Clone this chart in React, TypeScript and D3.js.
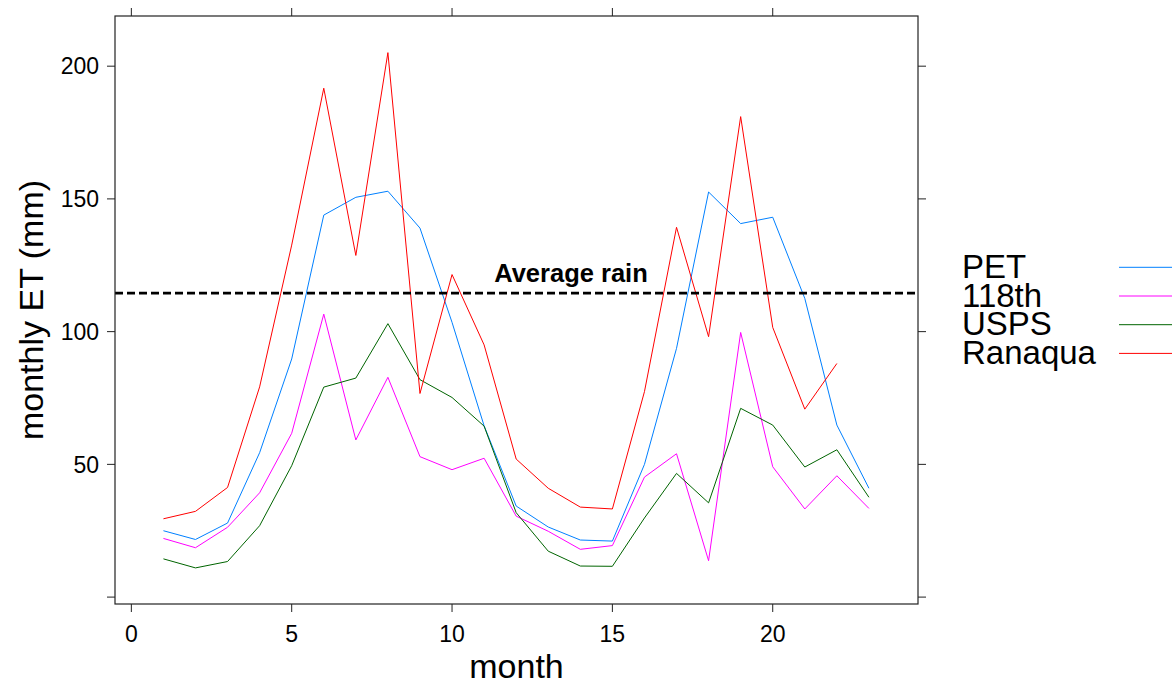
import React from "react";
import * as d3 from "d3";

const months = d3.range(1, 24);
const seriesNames = ["PET", "118th", "USPS", "Ranaqua"];
const seriesColors = ["#0080ff", "#ff00ff", "#006400", "#ff0000"];
const petValues = [25.0, 21.7, 27.9, 54.4, 89.7, 143.9, 150.6, 152.9, 139.0, 103.5, 64.5, 34.3, 26.4, 21.5, 21.1, 50.0, 93.7, 152.6, 140.7, 143.1, 112.5, 64.8, 41.0];
const s118Values = [22.1, 18.6, 26.3, 39.3, 61.7, 106.6, 59.2, 82.8, 52.9, 48.0, 52.3, 30.5, 24.8, 18.0, 19.4, 45.2, 54.0, 13.7, 99.7, 49.1, 33.2, 45.7, 33.4];
const uspsValues = [14.4, 11.0, 13.4, 26.9, 49.5, 79.1, 82.5, 103.0, 81.9, 75.2, 64.4, 31.8, 17.3, 11.7, 11.6, 29.8, 46.6, 35.5, 71.1, 64.8, 49.0, 55.5, 37.6];
const ranaquaValues = [29.5, 32.3, 41.3, 79.2, 132.6, 191.7, 128.7, 205.1, 76.7, 121.5, 95.0, 52.0, 41.0, 33.9, 33.2, 77.4, 139.3, 98.1, 181.0, 101.6, 70.8, 88.0];
const xTicks = [0, 5, 10, 15, 20];
const yTicks = [0, 50, 100, 150, 200];
const yTickLabels = ["", "50", "100", "150", "200"];
const averageRain = 114.5;

const allSeries = [petValues, s118Values, uspsValues, ranaquaValues];

export default function App() {
  const W = 1172, H = 686;
  const left = 115, right = 918, top = 16, bottom = 604;
  const x = d3.scaleLinear().domain([-0.51, 24.53]).range([left, right]);
  const y = d3.scaleLinear().domain([-2.6, 218.9]).range([bottom, top]);
  const line = d3.line<number>().x((_, i) => x(months[i])).y((d) => y(d));
  const font = "'Liberation Sans', Arial, Helvetica, sans-serif";
  const axisCol = "#222";

  return (
    <svg width={W} height={H} style={{ position: "absolute", left: 0, top: 0, background: "#fff" }} fontFamily={font}>
      <rect x={0} y={0} width={W} height={H} fill="#fff" />
      {allSeries.map((vals, si) => (
        <path key={si} d={line(vals) || ""} fill="none" stroke={seriesColors[si]} strokeWidth={1} />
      ))}
      <line x1={left} x2={right} y1={y(averageRain)} y2={y(averageRain)} stroke="#000" strokeWidth={2.6} strokeDasharray="8 4" />
      <text x={571} y={282} textAnchor="middle" fontWeight="bold" fontSize={25.5}>Average rain</text>
      <rect x={left} y={top} width={right - left} height={bottom - top} fill="none" stroke={axisCol} strokeWidth={1.2} />
      {xTicks.map((t) => (
        <g key={"x" + t}>
          <line x1={x(t)} x2={x(t)} y1={bottom} y2={bottom + 8} stroke={axisCol} />
          <line x1={x(t)} x2={x(t)} y1={top} y2={top - 8} stroke={axisCol} />
          <text x={x(t)} y={642} textAnchor="middle" fontSize={23}>{t}</text>
        </g>
      ))}
      {yTicks.map((t, i) => (
        <g key={"y" + t}>
          <line x1={left} x2={left - 8} y1={y(t)} y2={y(t)} stroke={axisCol} />
          <line x1={right} x2={right + 8} y1={y(t)} y2={y(t)} stroke={axisCol} />
          <text x={99} y={y(t)} dy="0.36em" textAnchor="end" fontSize={23}>{yTickLabels[i]}</text>
        </g>
      ))}
      <text x={(left + right) / 2} y={678} textAnchor="middle" fontSize={34}>month</text>
      <text transform={`translate(43, ${(top + bottom) / 2}) rotate(-90)`} textAnchor="middle" fontSize={34}>monthly ET (mm)</text>
      {seriesNames.map((n, i) => (
        <g key={n}>
          <text x={962} y={278 + i * 28.7} fontSize={33}>{n}</text>
          <line x1={1119} x2={1172} y1={267.3 + i * 28.7} y2={267.3 + i * 28.7} stroke={seriesColors[i]} strokeWidth={1} />
        </g>
      ))}
    </svg>
  );
}
